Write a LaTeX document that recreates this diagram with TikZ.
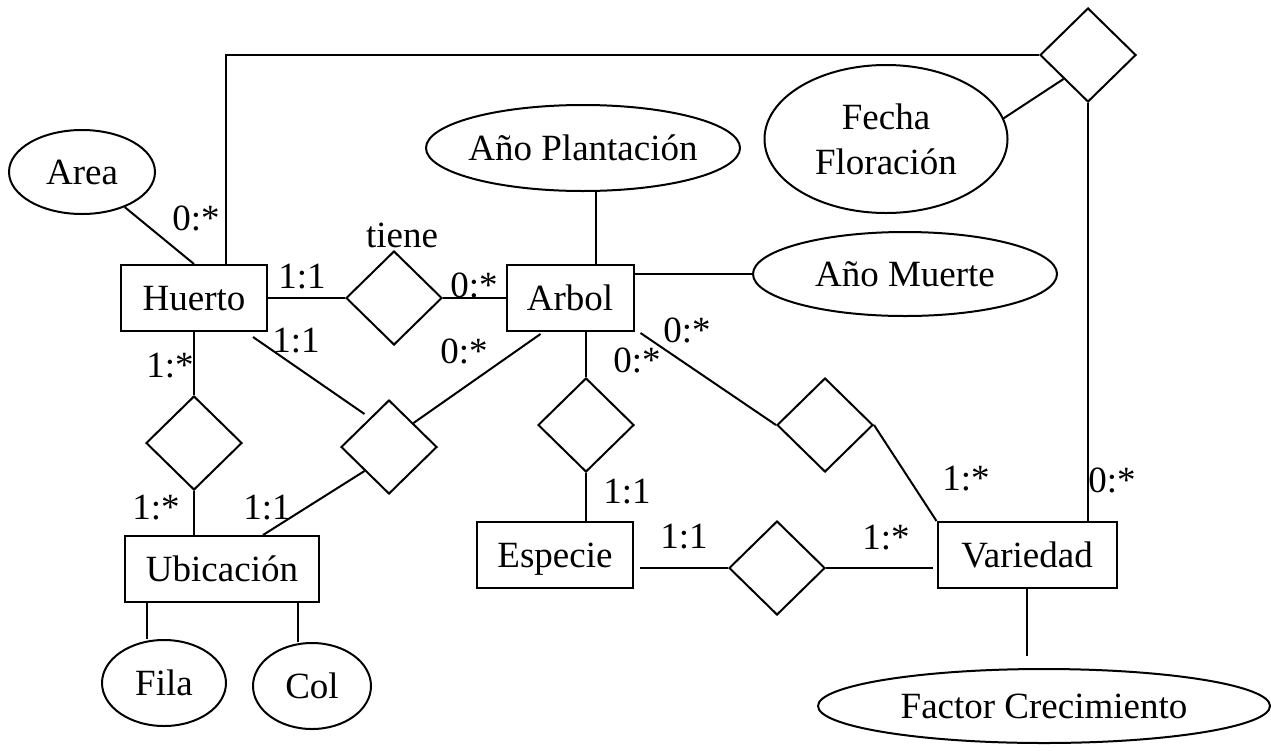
\documentclass[tikz,border=0pt]{standalone}
\usepackage{fontspec}
\setmainfont{Liberation Serif}
\usetikzlibrary{shapes.geometric,calc}
\begin{document}
\begin{tikzpicture}[x=1pt,y=-1pt,line width=2pt,
  every node/.style={font=\fontsize{37}{45}\selectfont},
  entity/.style n args={2}{draw,rectangle,minimum width=#1,minimum height=#2,inner sep=0pt,text height=24.5pt,text depth=0pt},
  attr/.style n args={2}{draw,ellipse,minimum width=#1,minimum height=#2,inner sep=0pt},
  rel/.style={draw,diamond,minimum width=96pt,minimum height=94pt,inner sep=0pt},
  lbl/.style={inner sep=0pt,text height=24.5pt,text depth=0pt}]
\useasboundingbox (0,0) rectangle (1271,750);

% entities
\node[entity={146pt}{66pt}] (huerto) at (194,298) {Huerto};
\node[entity={127pt}{66pt}] (arbol) at (570,298) {Arbol};
\node[entity={194pt}{66pt}] (ubic) at (222,569) {Ubicación};
\node[entity={156pt}{66pt}] (especie) at (555,555) {Especie};
\node[entity={179pt}{66pt}] (variedad) at (1027,555) {Variedad};

% attributes
\node[attr={146pt}{84pt}] (area) at (82,172) {};
\node[lbl] (areat) at (area) {Area};
\node[attr={314pt}{86pt}] (ap) at (583,148) {};
\node[lbl] (apt) at (ap) {Año Plantación};
\node[attr={304pt}{84pt}] (am) at (905,274) {};
\node[lbl] (amt) at (am) {Año Muerte};
\node[attr={243pt}{148pt}] (ff) at (886,139) {};
\node[inner sep=0pt,align=center] (fft) at (ff) {Fecha\\Floración};
\node[attr={452pt}{74pt}] (fc) at (1044,706) {};
\node[lbl] (fct) at (fc) {Factor Crecimiento};
\node[attr={124pt}{86pt}] (fila) at (164,683) {};
\node[lbl] (filat) at (fila) {Fila};
\node[attr={118pt}{86pt}] (col) at (312,686) {};
\node[lbl] (colt) at (col) {Col};

% relationships
\node[rel] (tiene) at (394,298) {};
\node[rel] (rtop) at (1088,55) {};
\node[rel] (dleft) at (194,443) {};
\node[rel] (dmid) at (389,447) {};
\node[rel] (dbot) at (586,425) {};
\node[rel] (dright) at (825,425) {};
\node[rel] (desp) at (777,568) {};

% cardinality and relationship labels
\node[lbl] (tienel) at (402,235) {tiene};
\node[lbl] (c1) at (196,218) {0:*};
\node[lbl] (c2) at (302,276) {1:1};
\node[lbl] (c3) at (474,285) {0:*};
\node[lbl] (c4) at (296,340) {1:1};
\node[lbl] (c5) at (464,351) {0:*};
\node[lbl] (c6) at (170,365) {1:*};
\node[lbl] (c7) at (156,507) {1:*};
\node[lbl] (c8) at (267,507) {1:1};
\node[lbl] (c9) at (687,330) {0:*};
\node[lbl] (c10) at (637,360) {0:*};
\node[lbl] (c11) at (627,491) {1:1};
\node[lbl] (c12) at (684,536) {1:1};
\node[lbl] (c13) at (886,537) {1:*};
\node[lbl] (c14) at (966,478) {1:*};
\node[lbl] (c15) at (1112,480) {0:*};

% helper points on entity borders
\coordinate (hup) at ($(huerto.north)+(32,0)$);
\coordinate (apfoot) at ($(arbol.north)+(26,0)$);
\coordinate (amfoot) at ($(arbol.east)+(0,-24)$);
\coordinate (hmid) at ($(huerto.south east)+(-15,5)$);
\coordinate (hmidend) at ($(dmid.north west)+(0,-9)$);
\coordinate (adm) at ($(arbol.south west)+(35,2)$);
\coordinate (ubm) at ($(ubic.north)+(41,0)$);
\coordinate (esr) at ($(especie.east)+(6,13)$);
\coordinate (ard) at ($(arbol.south east)+(6,1)$);
\coordinate (ufl) at ($(ubic.south west)+(23,0)$);
\coordinate (ucl) at ($(ubic.south east)+(-22,0)$);

% connectors
\draw (area) -- (huerto.north);
\draw (hup) |- (rtop.west);
\draw (ff.10) -- (rtop.south west);
\draw (rtop.south) -- (rtop.south |- variedad.north);
\draw (huerto.east) -- (tiene.west);
\draw (tiene.east) -- (arbol.west);
\draw (apfoot) -- (apfoot |- ap.south);
\draw (amfoot) -- (amfoot -| am.west);
\draw (huerto.south) -- (dleft.north);
\draw (dleft.south) -- (dleft.south |- ubic.north);
\draw (hmid) -- (hmidend);
\draw (adm) -- (dmid.north east);
\draw (dmid.south west) -- (ubm);
\draw (dbot.north) -- (dbot.north |- arbol.south);
\draw (dbot.south) -- (dbot.south |- especie.north);
\draw (esr) -- (desp.west);
\draw[shorten >=4pt] (desp.east) -- (desp.east -| variedad.west);
\draw (ard) -- (dright.west);
\draw (dright.east) -- (variedad.north west);
\draw[shorten >=12pt] (variedad.south) -- (variedad.south |- fc.north);
\draw (ufl) -- (ufl |- fila.north);
\draw (ucl) -- (ucl |- col.north);
\end{tikzpicture}
\end{document}
